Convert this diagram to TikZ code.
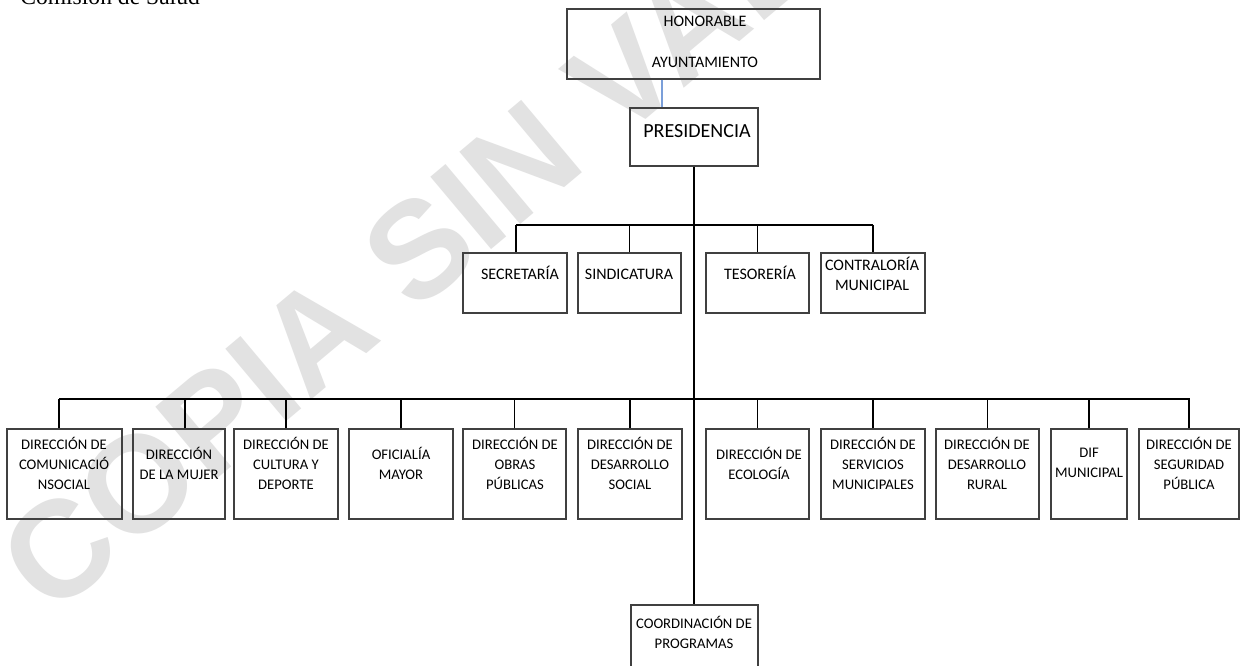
\documentclass[tikz,border=0pt]{standalone}
\usepackage{fontspec}
\setmainfont{Carlito}
\newfontfamily\titlefont{Liberation Serif}
\newfontfamily\wmfont{Liberation Sans}
\usetikzlibrary{fit}
\definecolor{boxline}{HTML}{404040}
\definecolor{wmgray}{HTML}{E2E2E2}
\definecolor{linkblue}{HTML}{7B9FD9}
\begin{document}
\begin{tikzpicture}[x=0.75pt,y=-0.75pt,
  box/.style={draw=boxline, line width=0.8pt, inner sep=0pt},
  lbl/.style={align=center, inner sep=0pt, font=\fontsize{11}{15}\selectfont},
  lbltwo/.style={align=center, inner sep=0pt, font=\fontsize{12}{15}\selectfont},
  bar/.style={line width=2.2pt},
  thickdrop/.style={line width=2pt},
  drop/.style={line width=1.1pt},
  ]
\useasboundingbox (0,0) rectangle (1241,666);
\fill[white] (0,0) rectangle (1241,666);
% watermark
\node[rotate=40, text=wmgray, inner sep=0pt, font=\wmfont\bfseries\fontsize{103}{110}\selectfont] (wm) at (485,193) {COPIA SIN VALOR};
% title
\node[anchor=base west, inner sep=0pt, font=\titlefont\fontsize{17.7}{20}\selectfont] (title) at (20,4.5) {Comisión de Salud};
% top
\node[box, fit={(567,9) (820,79)}] (hon) {};
\node[lbl, font=\fontsize{12}{15}\selectfont] (honT) at (705,41.5) {HONORABLE\\[15.75pt]AYUNTAMIENTO};
\node[box, fit={(630,108) (758,166)}] (pres) {};
\node[inner sep=0pt, font=\fontsize{15}{18}\selectfont] (presT) at (697,131) {PRESIDENCIA};
\coordinate (bx) at (662,0);
\draw[linkblue, line width=1.3pt] (hon.south -| bx) -- (pres.north -| bx);
% level 2
\node[box, fit={(463,253) (567,313)}] (sec) {};
\node[lbltwo, anchor=base] (secT) at (520,280) {SECRETARÍA};
\node[box, fit={(578,253) (681,313)}] (sin) {};
\node[lbltwo, anchor=base] (sinT) at (629,280) {SINDICATURA};
\node[box, fit={(706,253) (809,313)}] (tes) {};
\node[lbltwo, anchor=base] (tesT) at (760,280) {TESORERÍA};
\node[box, fit={(821,253) (925,313)}] (con) {};
\node[lbltwo] (conT) at (872,274) {CONTRALORÍA\\MUNICIPAL};
% level 3
\node[box, fit={(7,429) (122,519)}] (b1) {};
\node[lbl] (b1T) at (64,463) {DIRECCIÓN DE\\COMUNICACIÓ\\NSOCIAL};
\node[box, fit={(133,429) (225,519)}] (b2) {};
\node[lbl] (b2T) at (179,463) {DIRECCIÓN\\DE LA MUJER};
\node[box, fit={(234,429) (338,519)}] (b3) {};
\node[lbl] (b3T) at (286,463) {DIRECCIÓN DE\\CULTURA Y\\DEPORTE};
\node[box, fit={(349,429) (453,519)}] (b4) {};
\node[lbl] (b4T) at (401,463) {OFICIALÍA\\MAYOR};
\node[box, fit={(463,429) (566,519)}] (b5) {};
\node[lbl] (b5T) at (515,463) {DIRECCIÓN DE\\OBRAS\\PÚBLICAS};
\node[box, fit={(578,429) (682,519)}] (b6) {};
\node[lbl] (b6T) at (630,463) {DIRECCIÓN DE\\DESARROLLO\\SOCIAL};
\node[box, fit={(706,429) (809,519)}] (b7) {};
\node[lbl] (b7T) at (759,463) {DIRECCIÓN DE\\ECOLOGÍA};
\node[box, fit={(821,429) (925,519)}] (b8) {};
\node[lbl] (b8T) at (873,463) {DIRECCIÓN DE\\SERVICIOS\\MUNICIPALES};
\node[box, fit={(936,429) (1039,519)}] (b9) {};
\node[lbl] (b9T) at (987,463) {DIRECCIÓN DE\\DESARROLLO\\RURAL};
\node[box, fit={(1051,429) (1127,519)}] (b10) {};
\node[lbl] (b10T) at (1089,463) {DIF\\MUNICIPAL};
\node[box, fit={(1139,429) (1239,519)}] (b11) {};
\node[lbl] (b11T) at (1189,463) {DIRECCIÓN DE\\SEGURIDAD\\PÚBLICA};
% bottom
\node[box, fit={(631,605) (758,680)}] (coo) {};
\node[lbl] (cooT) at (694,632) {COORDINACIÓN DE\\PROGRAMAS};
% connectors
\coordinate (mx) at (694,0);
\coordinate (l2L) at (516,225);
\coordinate (l2R) at (873,225);
\coordinate (l3L) at (59,399);
\coordinate (l3R) at (1190,399);
\draw[bar] (pres.south -| mx) -- (coo.north -| mx);
\draw[bar] (l2L) -- (l2R);
\draw[bar] (l3L) -- (l3R);
\draw[drop] (l2L) -- (sec.north -| l2L);
\draw[drop] (sin.north) -- (sin.north |- l2L);
\draw[drop] (tes.north) -- (tes.north |- l2L);
\draw[drop] (l2R) -- (con.north -| l2R);
\draw[drop] (l3L) -- (b1.north -| l3L);
\draw[thickdrop] ([xshift=4.5pt]b2.north) -- ([xshift=4.5pt]b2.north |- l3L);
\foreach \b in {b3,b4,b5,b6,b7,b8,b9,b11}{
  \draw[drop] (\b.north) -- (\b.north |- l3L);
}
\draw[thickdrop] (b10.north) -- (b10.north |- l3L);
\end{tikzpicture}
\end{document}
